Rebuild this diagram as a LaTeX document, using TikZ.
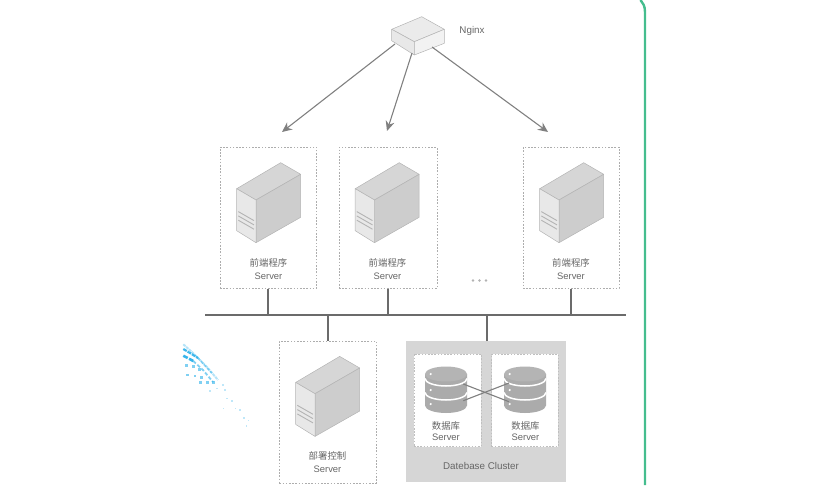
\documentclass[tikz,border=0pt]{standalone}
\usepackage{fontspec}
\setmainfont{Liberation Sans}
\newfontfamily\cjk{Noto Sans CJK SC}
\usepackage{tikz}
\usetikzlibrary{arrows.meta}

% tower case, (#1,#2) is the top left corner of its dashed box
\newcommand{\servertower}[2]{
    \begin{scope}[shift={(#1,#2)}, draw=towerline, line width=0.5pt, line join=round]
        \fill[draw, fill=towertop] (60.7,15.4) -- (80.7,27) -- (36,52.7) -- (16.7,41.4) -- cycle;
        \fill[draw, fill=towerside] (80.7,27) -- (80.7,70) -- (36,95.4) -- (36,52.7) -- cycle;
        \fill[draw, fill=towerfront] (16.7,41.4) -- (36,52.7) -- (36,95.4) -- (16.7,83.4) -- cycle;
        \foreach \yy in {0,4.3,8.6}
            \draw[towerline, line width=0.9pt] (18.3,64.3+\yy) -- (34,73.3+\yy);
    \end{scope}
}
% stack of three discs, (#1,#2) is the centre of the top face
\newcommand{\diskstack}[2]{
    \begin{scope}[shift={(#1,#2)}]
        \fill[diskgray] (-21,0) -- (-21,31.5) arc[start angle=180, end angle=360, x radius=21pt, y radius=7.5pt] -- (21,0) -- cycle;
        \fill[diskgray!90!white] (0,0) ellipse[x radius=21pt, y radius=7.5pt];
        \foreach \yy in {4.5,18.5}
            \draw[white, line width=1.5pt] (-21,\yy) arc[start angle=180, end angle=360, x radius=21pt, y radius=7.5pt];
        \foreach \yy in {0,16,30}
            \fill[white] (-15.3,\yy) circle[radius=1.2pt];
    \end{scope}
}

\begin{document}
\begin{tikzpicture}[x=1pt, y=-1pt]
    \definecolor{towerline}{HTML}{B4B4B4}
    \definecolor{towertop}{HTML}{D6D6D6}
    \definecolor{towerside}{HTML}{CDCDCD}
    \definecolor{towerfront}{HTML}{E8E8E8}
    \definecolor{diskgray}{HTML}{ABABAB}
    \definecolor{labelgray}{HTML}{666666}
    \definecolor{linkgray}{HTML}{808080}
    \definecolor{edgegreen}{HTML}{45BD8E}
    \definecolor{smear}{HTML}{2BB0EA}
    \tikzstyle{srvbox}=[draw=black!32, dash pattern=on 1.6pt off 1.6pt, line width=0.7pt, inner sep=0pt];
    \tikzstyle{srvlabel}=[text=labelgray, align=center, inner sep=0pt, font=\fontsize{9.4}{13.3}\selectfont];
    \tikzstyle{dblabel}=[srvlabel, font=\fontsize{9.4}{11}\selectfont];
    \tikzstyle{arrowlink}=[draw=linkgray, line width=1.1pt, -{Stealth[length=10pt,width=9pt]}];
    \tikzstyle{busline}=[draw=black!58, line width=1.7pt];

    \useasboundingbox (0,0) rectangle (830,485);

    % green page edge
    \draw[edgegreen, line width=2.4pt] (640.5,0) .. controls (643,3) and (645,6) .. (645,12) -- (645,485);

    % the blue streaks on the left
    \draw[smear, line width=2pt, opacity=0.35, dash pattern=on 3pt off 0.8pt] (183.3,344.3) -- (193,353) -- (206.7,366.7) -- (218,380);
    \draw[smear, line width=2.2pt, opacity=0.9, dash pattern=on 4pt off 1pt] (183.3,349) -- (190,353) -- (198,358);
    \draw[smear, line width=1.6pt, opacity=0.5, dash pattern=on 3pt off 1.5pt] (198,358) -- (211.7,373);
    \draw[smear, line width=2.6pt, opacity=0.95, dash pattern=on 5pt off 1.5pt] (183.3,355.7) -- (193.3,361);
    \draw[smear, line width=1.8pt, opacity=0.6, dash pattern=on 3.5pt off 2pt] (193.3,361) -- (203,370) -- (213,382);
    \foreach \xx/\yy in {186.7/365.7, 193.3/366.7, 199.3/369.3, 187.3/375, 195/376, 201.7/377.7, 200.7/382.7, 207.7/382.3, 213.3/382.7}
        \fill[smear, opacity=0.6] (\xx-1.4,\yy-1.4) rectangle (\xx+1.4,\yy+1.4);
    \foreach \xx/\yy in {216.7/388.3, 222.7/385, 225/390, 210/390.7, 226.7/398.3, 231.7/400.7, 223.3/408.3, 235.3/408.3, 240/410, 244/417.7, 248.3/420.3, 246.3/426}
        \fill[smear, opacity=0.3] (\xx-0.8,\yy-0.8) rectangle (\xx+0.8,\yy+0.8);

    % load balancer
    \begin{scope}[draw=towerline, line width=0.5pt, line join=round]
        \fill[draw, fill=white!92!black] (421.7,16.7) -- (444.3,29.3) -- (414.3,41.7) -- (391.7,29.3) -- cycle;
        \fill[draw, fill=towerfront] (391.7,29.3) -- (414.3,41.7) -- (414.3,55) -- (391.7,40.7) -- cycle;
        \fill[draw, fill=white!95!black] (414.3,41.7) -- (444.3,29.3) -- (444.3,43.3) -- (414.3,55) -- cycle;
    \end{scope}
    \node[srvlabel, font=\fontsize{9.8}{12}\selectfont] (nginx) at (472,31.2) {Nginx};
    \coordinate (nginxA) at (395,44);
    \coordinate (nginxB) at (412,53);
    \coordinate (nginxC) at (432,47);

    % front end servers
    \node[srvbox, minimum width=96.7pt, minimum height=141pt] (front1) at (268.3,217.8) {};
    \node[srvbox, minimum width=98pt, minimum height=141pt] (front2) at (387.9,217.8) {};
    \node[srvbox, minimum width=96pt, minimum height=141pt] (front3) at (571,217.8) {};
    \servertower{220}{147.3}
    \servertower{338.5}{147.3}
    \servertower{523}{147.3}
    \node[srvlabel] (front1text) at (268.5,269.3) {{\cjk 前端程序}\\Server};
    \node[srvlabel] (front2text) at (387.5,269.3) {{\cjk 前端程序}\\Server};
    \node[srvlabel] (front3text) at (571,269.3) {{\cjk 前端程序}\\Server};
    \foreach \xx in {473,479.5,486}
        \fill[black!30] (\xx,280.5) circle[radius=1.3pt];

    % deploy server
    \node[srvbox, minimum width=97pt, minimum height=142pt] (deploy) at (327.9,412) {};
    \servertower{279}{341}
    \node[srvlabel] (deploytext) at (327.5,462) {{\cjk 部署控制}\\Server};

    % database cluster
    \node[fill=black!16, inner sep=0pt, minimum width=160pt, minimum height=140.7pt] (cluster) at (486,411.3) {};
    \node[fill=white, srvbox, draw=black!25, minimum width=67pt, minimum height=92.7pt] (db1) at (447.5,400.3) {};
    \node[fill=white, srvbox, draw=black!25, minimum width=66.3pt, minimum height=92.7pt] (db2) at (524.8,400.3) {};
    \diskstack{446}{374}
    \diskstack{525}{374}
    \coordinate (db1up) at (463.3,384);
    \coordinate (db1low) at (463.3,400.7);
    \coordinate (db2up) at (509,383);
    \coordinate (db2low) at (509,401.7);
    \draw[black!50, line width=1.1pt] (db1up) -- (db2low);
    \draw[black!50, line width=1.1pt] (db1low) -- (db2up);
    \node[dblabel] (db1text) at (446,431.2) {{\cjk 数据库}\\Server};
    \node[dblabel] (db2text) at (525.5,431.2) {{\cjk 数据库}\\Server};
    \node[srvlabel, font=\fontsize{9.8}{12}\selectfont] (clustertext) at (481,465.7) {Datebase Cluster};

    % arrows and bus
    \coordinate (arrowA) at (282,132);
    \coordinate (arrowB) at (387,131);
    \coordinate (arrowC) at (548,132);
    \draw[arrowlink] (nginxA) -- (arrowA);
    \draw[arrowlink] (nginxB) -- (arrowB);
    \draw[arrowlink] (nginxC) -- (arrowC);
    \coordinate (busleft) at (205,315);
    \coordinate (busright) at (626,315);
    \draw[busline] (busleft) -- (busright);
    \foreach \name in {front1,front2,front3}
        \draw[busline] (\name.south) -- (\name.south |- busleft);
    \draw[busline] (deploy.north) -- (deploy.north |- busleft);
    \coordinate (clustertop) at (487,341);
    \draw[busline] (clustertop) -- (clustertop |- busleft);
\end{tikzpicture}
\end{document}
